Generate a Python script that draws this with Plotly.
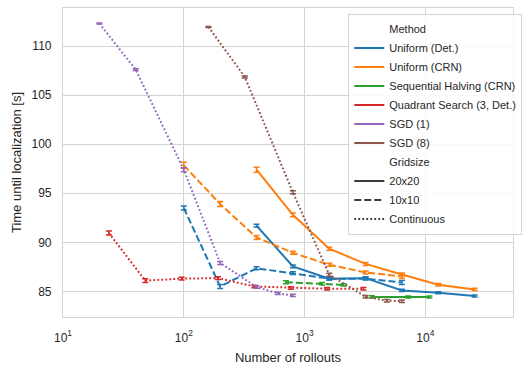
import plotly.graph_objects as go

# ---- data: number of rollouts vs. time until localization [s] ----
uni_det_20_x = [400, 800, 1600, 3200, 6400, 12800, 25600]
uni_det_20_y = [91.7, 87.55, 86.3, 86.35, 85.1, 84.87, 84.52]
uni_det_20_e = [0.15, 0.15, 0.15, 0.15, 0.12, 0.1, 0.1]

uni_det_10_x = [100, 200, 400, 800, 1600, 3200, 6400]
uni_det_10_y = [93.5, 85.5, 87.35, 86.86, 86.3, 86.3, 85.9]
uni_det_10_e = [0.2, 0.2, 0.15, 0.15, 0.15, 0.15, 0.2]

uni_crn_20_x = [400, 800, 1600, 3200, 6400, 12800, 25600]
uni_crn_20_y = [97.4, 92.8, 89.35, 87.8, 86.72, 85.68, 85.2]
uni_crn_20_e = [0.25, 0.2, 0.15, 0.15, 0.15, 0.12, 0.12]

uni_crn_10_x = [100, 200, 400, 800, 1600, 3200, 6400]
uni_crn_10_y = [97.85, 93.9, 90.5, 88.93, 87.71, 86.93, 86.52]
uni_crn_10_e = [0.3, 0.25, 0.2, 0.15, 0.15, 0.15, 0.2]

sh_crn_20_x = [3600, 7200, 10800]
sh_crn_20_y = [84.44, 84.42, 84.42]
sh_crn_20_e = [0.12, 0.1, 0.1]

sh_crn_10_x = [700, 1400, 2100]
sh_crn_10_y = [85.94, 85.78, 85.66]
sh_crn_10_e = [0.15, 0.12, 0.12]

quad_x = [24, 48, 96, 192, 384, 768, 1536, 3072]
quad_y = [90.95, 86.1, 86.3, 86.35, 85.5, 85.35, 85.27, 85.27]
quad_e = [0.2, 0.2, 0.15, 0.15, 0.12, 0.12, 0.12, 0.12]

sgd1_x = [20, 40, 100, 200, 400, 600, 800]
sgd1_y = [112.3, 107.6, 97.4, 87.9, 85.45, 84.8, 84.6]
sgd1_e = [0.05, 0.1, 0.2, 0.15, 0.12, 0.12, 0.12]

sgd8_x = [160, 320, 800, 1600, 3200, 4800, 6400]
sgd8_y = [111.95, 106.85, 95.1, 86.7, 84.45, 84.05, 84.0]
sgd8_e = [0.05, 0.1, 0.15, 0.15, 0.12, 0.12, 0.12]

methods = ["Uniform (Det.)", "Uniform (CRN)", "Sequential Halving (CRN)",
           "Quadrant Search (3, Det.)", "SGD (1)", "SGD (8)"]
colors = ["#1f77b4", "#ff7f0e", "#2ca02c", "#d62728", "#9467bd", "#8c564b"]
gridsizes = ["20x20", "10x10", "Continuous"]
dashes = {"20x20": "solid", "10x10": "7px,3px", "Continuous": "1.8px,2.2px"}

series = [
    (0, "20x20", uni_det_20_x, uni_det_20_y, uni_det_20_e),
    (0, "10x10", uni_det_10_x, uni_det_10_y, uni_det_10_e),
    (1, "20x20", uni_crn_20_x, uni_crn_20_y, uni_crn_20_e),
    (1, "10x10", uni_crn_10_x, uni_crn_10_y, uni_crn_10_e),
    (2, "20x20", sh_crn_20_x, sh_crn_20_y, sh_crn_20_e),
    (2, "10x10", sh_crn_10_x, sh_crn_10_y, sh_crn_10_e),
    (3, "Continuous", quad_x, quad_y, quad_e),
    (4, "Continuous", sgd1_x, sgd1_y, sgd1_e),
    (5, "Continuous", sgd8_x, sgd8_y, sgd8_e),
]

fig = go.Figure()

for mi, gs, xs, ys, es in series:
    fig.add_trace(go.Scatter(
        x=xs, y=ys, mode="lines", showlegend=False,
        line=dict(color=colors[mi], width=2, dash=dashes[gs]),
        error_y=dict(type="data", array=es, visible=True,
                     color=colors[mi], thickness=1.5, width=3),
    ))

# legend entries: section headers, methods (colour) and grid sizes (dash)
def header(name):
    fig.add_trace(go.Scatter(x=[None], y=[None], mode="lines", name=name,
                             line=dict(color="rgba(0,0,0,0)", width=2)))

header("Method")
for name, c in zip(methods, colors):
    fig.add_trace(go.Scatter(x=[None], y=[None], mode="lines", name=name,
                             line=dict(color=c, width=2)))
header("Gridsize")
for gs in gridsizes:
    fig.add_trace(go.Scatter(x=[None], y=[None], mode="lines", name=gs,
                             line=dict(color="#3a3a3a", width=2, dash=dashes[gs])))

axis_common = dict(
    showgrid=True, gridcolor="#d4d4d4", gridwidth=1,
    showline=True, linecolor="#d4d4d4", linewidth=1.2, mirror=True,
    zeroline=False, ticks="", tickfont=dict(size=12, color="#262626"),
)

fig.update_xaxes(
    type="log", range=[1, 4.7256],
    tickvals=[10, 100, 1000, 10000],
    ticktext=["10<sup>1</sup>", "10<sup>2</sup>", "10<sup>3</sup>", "10<sup>4</sup>"],
    title=dict(text="Number of rollouts", font=dict(size=13, color="#262626"), standoff=9),
    ticklabelstandoff=9,
    **axis_common,
)
fig.update_yaxes(
    range=[82.39, 113.88], tickvals=[85, 90, 95, 100, 105, 110],
    title=dict(text="Time until localization [s]", font=dict(size=13, color="#262626"), standoff=6),
    ticklabelstandoff=8,
    **axis_common,
)

fig.update_layout(
    width=524, height=368,
    margin=dict(l=63, r=2, t=8, b=51),
    paper_bgcolor="white", plot_bgcolor="white",
    font=dict(family="Liberation Sans, Arial, sans-serif", color="#262626"),
    legend=dict(
        x=0.634, y=0.982, xanchor="left", yanchor="top",
        bgcolor="rgba(255,255,255,0.85)", bordercolor="#d4d4d4", borderwidth=1,
        font=dict(size=11, color="#262626"), tracegroupgap=0, itemwidth=30,
    ),
)

fig.write_html("out.html")
